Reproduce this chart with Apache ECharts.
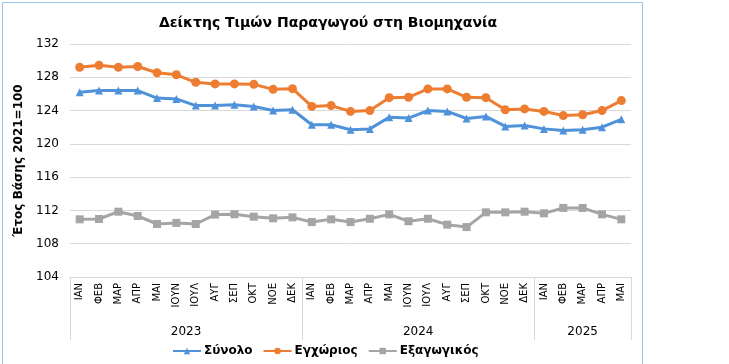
<!DOCTYPE html>
<html>
<head>
<meta charset="utf-8">
<script src="https://cdn.jsdelivr.net/npm/echarts@6/dist/echarts.min.js"></script>
<style>html,body{margin:0;padding:0;background:#fff}#c{width:729px;height:364px}</style>
</head>
<body>
<div id="c"></div>
<script>
const months = ['ΙΑΝ','ΦΕΒ','ΜΑΡ','ΑΠΡ','ΜΑΙ','ΙΟΥΝ','ΙΟΥΛ','ΑΥΓ','ΣΕΠ','ΟΚΤ','ΝΟΕ','ΔΕΚ',
  'ΙΑΝ','ΦΕΒ','ΜΑΡ','ΑΠΡ','ΜΑΙ','ΙΟΥΝ','ΙΟΥΛ','ΑΥΓ','ΣΕΠ','ΟΚΤ','ΝΟΕ','ΔΕΚ',
  'ΙΑΝ','ΦΕΒ','ΜΑΡ','ΑΠΡ','ΜΑΙ'];
const years = ['2023','2024','2025'];
const yearMonthCounts = [12,12,5];
const synolo = [126.2,126.4,126.4,126.4,125.5,125.4,124.6,124.6,124.7,124.5,124.0,124.1,
  122.3,122.3,121.7,121.8,123.2,123.1,124.0,123.9,123.05,123.3,122.1,122.2,
  121.8,121.6,121.7,122.0,122.95];
const egxorios = [129.2,129.45,129.2,129.3,128.55,128.3,127.4,127.2,127.2,127.15,126.55,126.63,
  124.5,124.6,123.9,124.0,125.55,125.6,126.6,126.6,125.6,125.55,124.1,124.2,
  123.9,123.4,123.5,124.0,125.2];
const exagogikos = [110.93,110.97,111.85,111.33,110.37,110.5,110.37,111.5,111.54,111.25,111.05,111.17,
  110.6,110.93,110.6,111.0,111.53,110.7,111.0,110.29,110.0,111.77,111.77,111.85,
  111.65,112.3,112.3,111.53,110.93];
const yTicks = {min:104, max:132, interval:4};

// build half-month boundary axis for year labels / separators
const nSlots = months.length * 2 + 1;
const yearAxisData = new Array(nSlots).fill('');
const sepIdx = [0];
let acc = 0;
years.forEach((y, i) => {
  const start = acc;
  acc += yearMonthCounts[i];
  yearAxisData[(start * 2) + yearMonthCounts[i]] = y;
  sepIdx.push(acc * 2);
});
const sepSet = new Set(sepIdx);

const font = 'DejaVu Sans, Verdana, sans-serif';
const chart = echarts.init(document.getElementById('c'));
chart.setOption({
  animation: false,
  backgroundColor: '#fff',
  title: {
    text: 'Δείκτης Τιμών Παραγωγού στη Βιομηχανία',
    left: 323, top: 11, textAlign: 'center',
    textStyle: {fontFamily: font, fontSize: 14, fontWeight: 'bold', color: '#000'}
  },
  graphic: [{
    type: 'rect', left: 0, top: 0, silent: true,
    shape: {x: 0, y: 0, width: 640, height: 362},
    style: {fill: 'none', stroke: '#9DC3E6', lineWidth: 1}
  }],
  legend: {
    left: 167, top: 340,
    itemWidth: 28, itemHeight: 8, itemGap: 10,
    textStyle: {fontFamily: font, fontSize: 12, fontWeight: 'bold', color: '#000', padding: [0,0,0,-2]},
    data: ['Σύνολο','Εγχώριος','Εξαγωγικός']
  },
  grid: {left: 70, right: 98, top: 44, bottom: 87, containLabel: false},
  xAxis: [{
    type: 'category', data: months, boundaryGap: true,
    axisLine: {lineStyle: {color: '#d9d9d9', width: 1}},
    axisTick: {show: false},
    axisLabel: {rotate: 90, interval: 0, margin: 6, fontFamily: font, fontSize: 10, color: '#000'}
  }, {
    type: 'category', data: yearAxisData, boundaryGap: false, position: 'bottom',
    axisLine: {show: false},
    axisTick: {show: true, length: 63, interval: (i) => sepSet.has(i), lineStyle: {color: '#d9d9d9'}},
    axisLabel: {interval: 0, margin: 49, fontFamily: font, fontSize: 12, color: '#000'}
  }],
  yAxis: {
    type: 'value', min: yTicks.min, max: yTicks.max, interval: yTicks.interval,
    name: 'Έτος Βάσης 2021=100', nameLocation: 'middle', nameGap: 45, nameRotate: 90,
    nameTextStyle: {fontFamily: font, fontSize: 12, fontWeight: 'bold', color: '#000'},
    axisLine: {show: false}, axisTick: {show: false},
    axisLabel: {margin: 11, fontFamily: font, fontSize: 12, color: '#000'},
    splitLine: {lineStyle: {color: '#d9d9d9', width: 1}}
  },
  series: [{
    name: 'Σύνολο', type: 'line', data: synolo, color: '#4F92DA',
    symbol: 'triangle', symbolSize: 8, lineStyle: {width: 3}
  }, {
    name: 'Εγχώριος', type: 'line', data: egxorios, color: '#ED7D31',
    symbol: 'circle', symbolSize: 9, lineStyle: {width: 3}
  }, {
    name: 'Εξαγωγικός', type: 'line', data: exagogikos, color: '#A5A5A5',
    symbol: 'rect', symbolSize: 8, lineStyle: {width: 3}
  }]
});
</script>
</body>
</html>
